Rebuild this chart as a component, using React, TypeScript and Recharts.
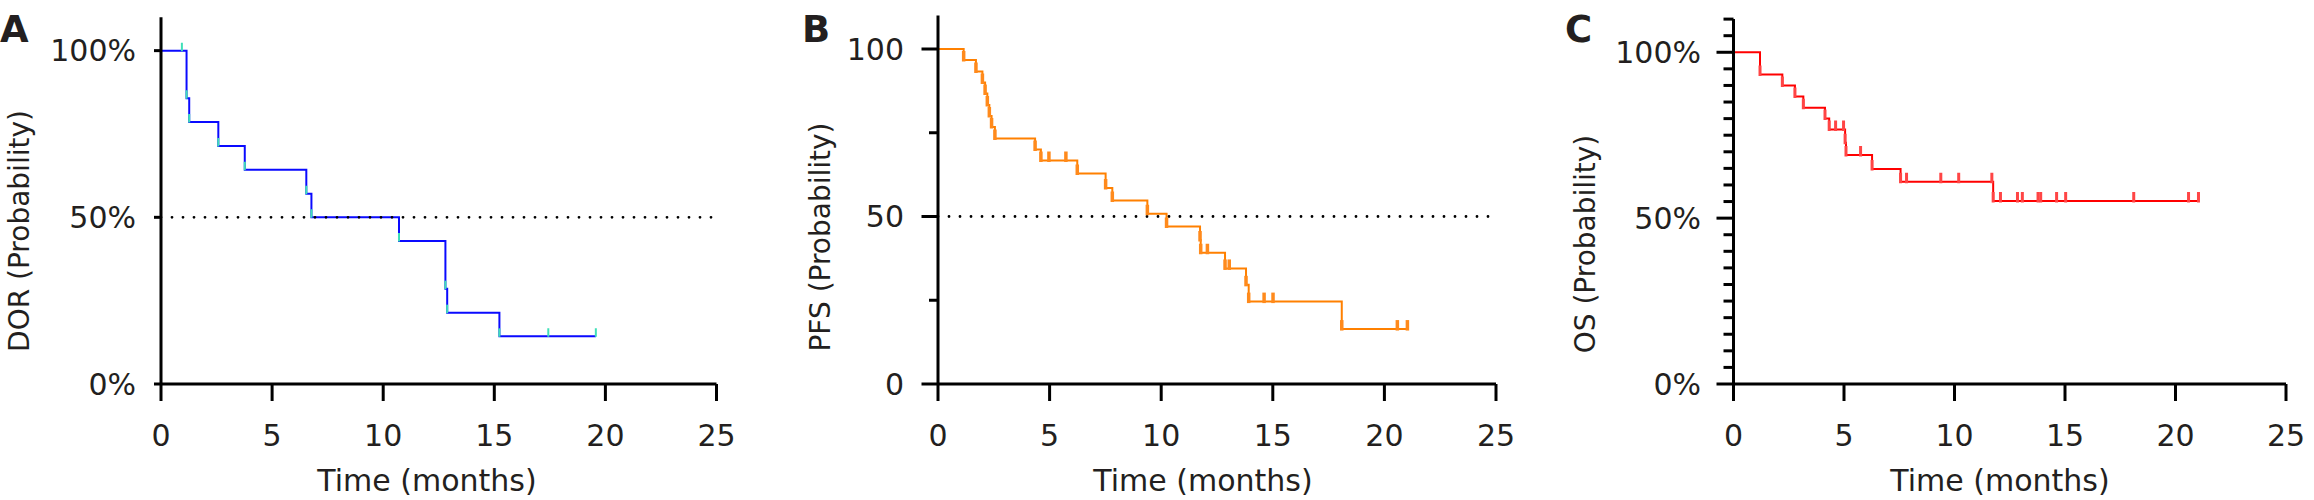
import { LineChart, Line, XAxis, YAxis, ReferenceLine } from "recharts";

const FONT = "'DejaVu Sans', Verdana, sans-serif";
const INK = "#231f20";

const xTicks = [0, 5, 10, 15, 20, 25];

// A: duration of response
const dorTime = [0, 0.94, 1.15, 1.27, 2.58, 3.77, 6.54, 6.77, 10.71, 12.8, 12.88, 15.23, 17.43, 19.57];
const dorProb = [100, 100, 85.7, 78.6, 71.4, 64.3, 57.1, 50.0, 42.9, 28.6, 21.4, 14.3, 14.3, 14.3];
const dorYTicks = [0, 50, 100];
const dorYLabels = ["0%", "50%", "100%"];

// B: progression-free survival
const pfsTime = [
  0, 1.15, 1.7, 1.99, 2.11, 2.21, 2.3, 2.4, 2.55, 4.35, 4.61, 4.97, 5.73, 6.24, 7.51, 7.81, 9.38, 10.24,
  11.74, 11.77, 12.07, 12.86, 13.05, 13.8, 13.92, 14.61, 15.01, 18.09, 20.58, 21.03,
];
const pfsProb = [
  100, 96.7, 93.3, 90.0, 86.7, 83.3, 80.0, 76.7, 73.3, 70.0, 66.7, 66.7, 66.7, 62.8, 58.5, 54.8, 50.8, 47.0,
  43.0, 39.2, 39.2, 34.5, 34.5, 29.6, 24.6, 24.6, 24.6, 16.4, 16.4, 16.4,
];
const pfsYTicks = [0, 25, 50, 75, 100];
const pfsYLabels = ["0", "", "50", "", "100"];

// C: overall survival
const osTime = [
  0, 1.2, 2.21, 2.78, 3.16, 4.14, 4.33, 4.62, 4.98, 5.05, 5.09, 5.75, 6.27, 7.56, 7.83, 9.38, 10.19, 11.69,
  11.75, 12.08, 12.85, 13.07, 13.78, 13.9, 14.62, 15.03, 18.11, 20.59, 21.04,
];
const osProb = [
  100, 93.3, 90.0, 86.7, 83.3, 80.0, 76.7, 76.7, 76.7, 72.7, 69.0, 69.0, 64.8, 61.0, 61.0, 61.0, 61.0, 61.0,
  55.2, 55.2, 55.2, 55.2, 55.2, 55.2, 55.2, 55.2, 55.2, 55.2, 55.2,
];
const osYTicks = [0, 5, 10, 15, 20, 25, 30, 35, 40, 45, 50, 55, 60, 65, 70, 75, 80, 85, 90, 95, 100, 105, 110];
const osYLabels = [
  "0%", "", "", "", "", "", "", "", "", "", "50%", "", "", "", "", "", "", "", "", "", "100%", "", "",
];

type PanelProps = {
  left: number;
  width: number;
  axisX: number;
  axisEnd: number;
  top: number;
  time: number[];
  prob: number[];
  yTicks: number[];
  yLabels: string[];
  majorLen: number;
  minorLen: number;
  labelGap: number;
  lineColor: string;
  markColor: string;
  markWidth: number;
  markUp: number;
  markDown: number;
  median: boolean;
  letter: string;
  letterX: number;
  yTitle: string;
  yTitleX: number;
  yTitleY: number;
  xTitleX: number;
};

function Panel(p: PanelProps) {
  const data = p.time.map((t, i) => ({ t, s: p.prob[i] }));

  const yTick = (props: any) => {
    const { x, y, index } = props;
    const label = p.yLabels[index];
    const len = label ? p.majorLen : p.minorLen;
    return (
      <g>
        <line x1={x} x2={x - len} y1={y} y2={y} stroke="#000" strokeWidth={3} />
        {label ? (
          <text
            x={x - p.majorLen - p.labelGap}
            y={y}
            dy="0.36em"
            textAnchor="end"
            fill={INK}
            fontSize={30}
            fontFamily={FONT}
          >
            {label}
          </text>
        ) : null}
      </g>
    );
  };

  const marker = (props: any) => {
    const { cx, cy, index } = props;
    if (index === 0 || cx == null) return <g key={`m${index}`} />;
    return (
      <line
        key={`m${index}`}
        x1={cx}
        x2={cx}
        y1={cy + p.markDown}
        y2={cy - p.markUp}
        stroke={p.markColor}
        strokeWidth={p.markWidth}
      />
    );
  };

  const yTitle = () => (
    <g>
      <text x={p.letterX} y={42} fill={INK} fontSize={37} fontWeight="bold" fontFamily={FONT}>
        {p.letter}
      </text>
      <text
        x={p.yTitleX}
        y={p.yTitleY}
        transform={`rotate(-90, ${p.yTitleX}, ${p.yTitleY})`}
        textAnchor="middle"
        fill={INK}
        fontSize={28}
        fontFamily={FONT}
      >
        {p.yTitle}
      </text>
    </g>
  );

  const xTitle = () => (
    <text x={p.xTitleX} y={491} textAnchor="middle" fill={INK} fontSize={30} fontFamily={FONT}>
      Time (months)
    </text>
  );

  return (
    <div style={{ position: "absolute", left: p.left, top: 0 }}>
      <LineChart
        width={p.width}
        height={500}
        data={data}
        margin={{ top: p.top, right: p.width - p.axisEnd, bottom: 0, left: 0 }}
      >
        <XAxis
          type="number"
          dataKey="t"
          domain={[0, 25]}
          ticks={xTicks}
          interval={0}
          allowDataOverflow
          height={116}
          axisLine={{ stroke: "#000", strokeWidth: 3 }}
          tickLine={{ stroke: "#000", strokeWidth: 3 }}
          tickSize={17}
          tickMargin={24}
          tick={{ fill: INK, fontSize: 30, fontFamily: FONT }}
          label={xTitle}
        />
        <YAxis
          type="number"
          domain={[0, 110]}
          ticks={p.yTicks}
          interval={0}
          allowDataOverflow
          width={p.axisX}
          axisLine={{ stroke: "#000", strokeWidth: 3 }}
          tickLine={false}
          tickSize={0}
          tickMargin={0}
          tick={yTick}
          label={yTitle}
        />
        <Line
          type="stepAfter"
          dataKey="s"
          stroke={p.lineColor}
          strokeWidth={2}
          dot={marker}
          activeDot={false}
          isAnimationActive={false}
        />
        {p.median ? (
          <ReferenceLine
            y={50}
            stroke="#000"
            strokeWidth={2.8}
            strokeDasharray="0 11"
            strokeLinecap="round"
          />
        ) : null}
      </LineChart>
    </div>
  );
}

export default function App() {
  return (
    <div style={{ position: "absolute", left: 0, top: 0, width: 2314, height: 500, background: "#fff" }}>
      <Panel
        left={0}
        width={780}
        axisX={161}
        axisEnd={716.5}
        top={17.3}
        time={dorTime}
        prob={dorProb}
        yTicks={dorYTicks}
        yLabels={dorYLabels}
        majorLen={7}
        minorLen={7}
        labelGap={18}
        lineColor="#0a0aff"
        markColor="#3fe0b8"
        markWidth={2}
        markUp={8}
        markDown={0.5}
        median
        letter="A"
        letterX={0}
        yTitle="DOR (Probability)"
        yTitleX={29}
        yTitleY={231}
        xTitleX={427}
      />
      <Panel
        left={780}
        width={780}
        axisX={158}
        axisEnd={716}
        top={15.5}
        time={pfsTime}
        prob={pfsProb}
        yTicks={pfsYTicks}
        yLabels={pfsYLabels}
        majorLen={16.5}
        minorLen={9}
        labelGap={17.5}
        lineColor="#ff8000"
        markColor="#ff8a1c"
        markWidth={3.5}
        markUp={9}
        markDown={1.5}
        median
        letter="B"
        letterX={22}
        yTitle="PFS (Probability)"
        yTitleX={50}
        yTitleY={237}
        xTitleX={423}
      />
      <Panel
        left={1540}
        width={774}
        axisX={193.5}
        axisEnd={746}
        top={19.1}
        time={osTime}
        prob={osProb}
        yTicks={osYTicks}
        yLabels={osYLabels}
        majorLen={17}
        minorLen={10}
        labelGap={15.5}
        lineColor="#ff0000"
        markColor="#ff4545"
        markWidth={3}
        markUp={9}
        markDown={1.5}
        median={false}
        letter="C"
        letterX={25}
        yTitle="OS (Probability)"
        yTitleX={55}
        yTitleY={244}
        xTitleX={460}
      />
    </div>
  );
}
